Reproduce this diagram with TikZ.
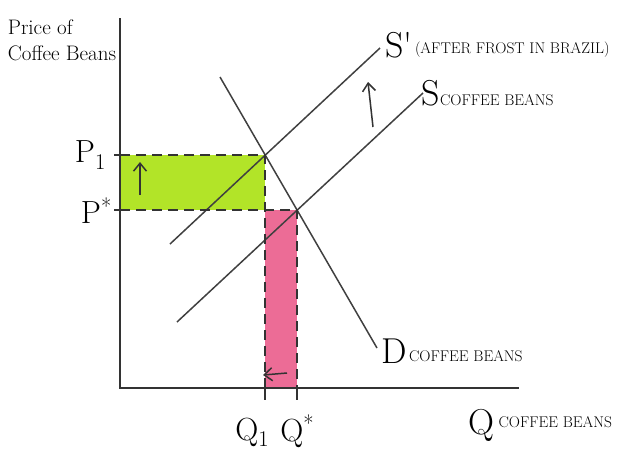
\documentclass[tikz,border=0pt]{standalone}
\usetikzlibrary{positioning,arrows.meta}
\definecolor{limefill}{RGB}{178,228,40}
\definecolor{pinkfill}{RGB}{236,108,150}

\begin{document}
\begin{tikzpicture}[
    x=1pt,y=-1pt,
    axis/.style={line width=1.6pt,draw=black!80},
    curve/.style={line width=1.5pt,draw=black!75},
    guide/.style={line width=1.6pt,draw=black!80,dash pattern=on 10pt off 6pt},
    movearrow/.style={->,line width=1.5pt,draw=black!80},
    biglab/.style={font=\fontsize{36}{36}\selectfont,inner sep=0pt},
    ticklab/.style={font=\fontsize{32}{32}\selectfont,inner sep=0pt},
    smalllab/.style={font=\fontsize{15.5}{15.5}\selectfont,inner sep=0pt},
    axislab/.style={font=\fontsize{21}{26}\selectfont,align=left,inner sep=0pt},
    >={Straight Barb[length=8pt,width=13pt]}
]
\useasboundingbox (0,0) rectangle (624,459);

% axes
\coordinate (O)    at (120,388);
\coordinate (ytop) at (120,18);
\coordinate (xend) at (519,388);

% supply and demand lines
\coordinate (d1) at (220,77);
\coordinate (d2) at (377,348);
\coordinate (s1) at (177,322);
\coordinate (s2) at (423,93);
\coordinate (t1) at (170,244);
\coordinate (t2) at (380,48);

% equilibria
\coordinate (E0) at (intersection of d1--d2 and s1--s2);
\coordinate (E1) at (intersection of d1--d2 and t1--t2);
\coordinate (p1) at (E1 -| O);
\coordinate (p0) at (E0 -| O);
\coordinate (q1) at (E1 |- O);
\coordinate (q0) at (E0 |- O);

% shaded areas
\fill[limefill] (p1) rectangle (E1 |- E0);
\fill[pinkfill] (E1 |- E0) rectangle (q0);

\draw[axis] (ytop) -- (O) -- (xend);
\draw[curve] (d1) -- (d2);
\draw[curve] (s1) -- (s2);
\draw[curve] (t1) -- (t2);

% dashed guides
\draw[guide] (p1) -- (E1) -- (q1);
\draw[guide] (p0) -- (E0) -- (q0);

% ticks
\draw[axis] (p1) -- ++(-6,0);
\draw[axis] (p0) -- ++(-6,0);
\draw[axis] (q1) -- ++(0,12);
\draw[axis] (q0) -- ++(0,12);

% shift arrows
\coordinate (g1) at (140,195);
\coordinate (g2) at (140,162);
\draw[movearrow] (g1) -- (g2);
\coordinate (u1) at (373,127);
\coordinate (u2) at (368,82);
\draw[movearrow] (u1) -- (u2);
\coordinate (l1) at (287,373);
\coordinate (l2) at (263,375);
\draw[movearrow] (l1) -- (l2);

% labels
\node[axislab] (ylab) at (62,40) {Price of\\Coffee Beans};
\node[ticklab] (P1) [left=14pt of p1] {P\textsubscript{1}};
\node[ticklab] (P0) [left=8pt of p0] {P\textsuperscript{*}};
\node[ticklab] (Q1) [below=30pt of q1,xshift=-13pt] {Q\textsubscript{1}};
\node[ticklab] (Q0) [below=27pt of q0] {Q\textsuperscript{*}};

\node[biglab,anchor=west] (Sl1) at ([xshift=5pt,yshift=3pt]t2) {S\textquotesingle};
\node[smalllab,anchor=base west] (Sl1t) at ([xshift=2pt,yshift=4pt]Sl1.base east) {(AFTER FROST IN BRAZIL)};
\node[biglab,anchor=west] (Sl0) at ([xshift=-2pt]s2) {S};
\node[smalllab,anchor=base west] (Sl0t) at (Sl0.base east) {COFFEE BEANS};
\node[biglab,anchor=west] (Dl) at ([xshift=4pt,yshift=-3pt]d2) {D};
\node[smalllab,anchor=base west] (Dlt) at ([xshift=2pt,yshift=2pt]Dl.base east) {COFFEE BEANS};
\node[biglab,anchor=west] (Ql) at (468,425) {Q};
\node[smalllab,anchor=base west] (Qlt) at ([xshift=4pt,yshift=7pt]Ql.base east) {COFFEE BEANS};

\end{tikzpicture}
\end{document}
